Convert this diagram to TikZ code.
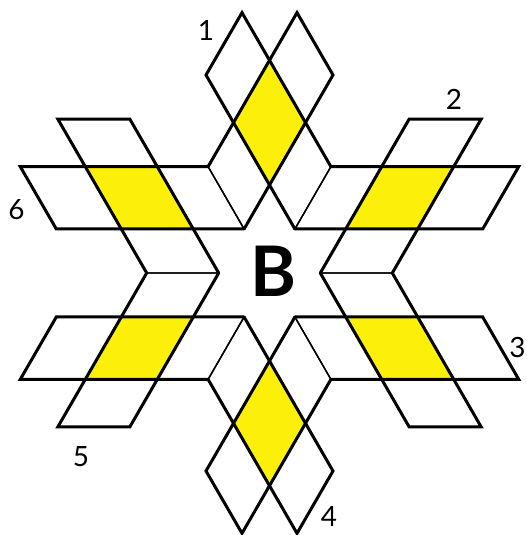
\documentclass[tikz,border=0pt]{standalone}
\usepackage{fontspec}
\setmainfont{Lato}
\definecolor{yel}{RGB}{252,240,10}
\tikzset{
  edgethick/.style={line width=3bp, line join=miter, line cap=round, black},
  edgethin/.style={line width=1.4bp, line cap=round, black},
  lab/.style={inner sep=0pt, font=\fontsize{28}{28}\selectfont},
  bigletter/.style={inner sep=0pt, font=\fontsize{70}{70}\selectfont\bfseries}
}
\def\Rr{88}\def\Ra{72}\def\Rs{50.807}
\begin{document}
\begin{tikzpicture}[x=1bp,y=1bp]
  \fill[white] (-269.5,-262) rectangle (257.5,273);
  \useasboundingbox (-269.5,-262) rectangle (257.5,273);
  % fills
  \foreach \ang/\bu/\bv in {0/55/55,60/65/55,120/55/65,180/55/55,240/65/55,300/55/65}{
    \begin{scope}[rotate=\ang]
      \begin{scope}[shift={(0,\Rr)}, x={(-0.5bp,0.8660254bp)}, y={(0.5bp,0.8660254bp)}]
        \fill[white] (-\Rs,0) -- (\Ra+\bu,0) -- (\Ra+\bu,\Ra) -- (-\Rs,\Ra) -- cycle;
        \fill[white] (0,-\Rs) -- (\Ra,-\Rs) -- (\Ra,\Ra+\bv) -- (0,\Ra+\bv) -- cycle;
        \fill[yel] (0,0) -- (\Ra,0) -- (\Ra,\Ra) -- (0,\Ra) -- cycle;
      \end{scope}
    \end{scope}
  }
  % outlines
  \foreach \ang/\bu/\bv in {0/55/55,60/65/55,120/55/65,180/55/55,240/65/55,300/55/65}{
    \begin{scope}[rotate=\ang]
      \begin{scope}[shift={(0,\Rr)}, x={(-0.5bp,0.8660254bp)}, y={(0.5bp,0.8660254bp)}]
        \draw[edgethin] (-\Rs,0) -- (-\Rs,\Ra);
        \draw[edgethin] (0,-\Rs) -- (\Ra,-\Rs);
        \draw[edgethick] (-\Rs,0) -- (\Ra+\bu,0) -- (\Ra+\bu,\Ra) -- (-\Rs,\Ra);
        \draw[edgethick] (0,-\Rs) -- (0,\Ra+\bv) -- (\Ra,\Ra+\bv) -- (\Ra,-\Rs);
      \end{scope}
    \end{scope}
  }
  % labels
  \node[lab] (l1) at (-63.5,243) {1};
  \node[lab] (l2) at (184.5,174) {2};
  \node[lab] (l3) at (248,-75) {3};
  \node[lab] (l4) at (59.5,-244) {4};
  \node[lab] (l5) at (-188.5,-184) {5};
  \node[lab] (l6) at (-253,63) {6};
  \node[bigletter] (b) at (3.5,1.5) {B};
\end{tikzpicture}
\end{document}
